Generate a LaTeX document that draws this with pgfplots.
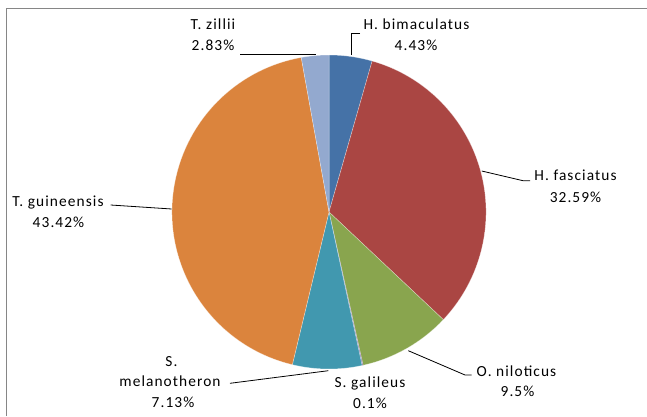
\documentclass[border=0pt]{standalone}
\usepackage{pgfplots}
\usepackage{pgfplotstable}
\pgfplotsset{compat=1.18}
\usepackage{fontspec}
\setmainfont{Carlito}[LetterSpace=7]
\definecolor{c1}{HTML}{4572A7}
\definecolor{c2}{HTML}{AA4643}
\definecolor{c3}{HTML}{89A54E}
\definecolor{c4}{HTML}{71588F}
\definecolor{c5}{HTML}{4198AF}
\definecolor{c6}{HTML}{DB843D}
\definecolor{c7}{HTML}{93A9CF}
\definecolor{framegray}{RGB}{134,134,134}

\pgfplotstableread{
name value color
Hbim 4.43 c1
Hfas 32.59 c2
Onil 9.5 c3
Sgal 0.1 c4
Smel 7.13 c5
Tgui 43.42 c6
Tzil 2.83 c7
}\piedata

\begin{document}
\begin{tikzpicture}[x=1pt,y=1pt,
  lbl/.style={font=\fontsize{15.4}{18}\selectfont, anchor=base, inner sep=0pt}]
\useasboundingbox (0,0) rectangle (647,416);
\begin{axis}[
  at={(0,0)}, anchor=south west,
  scale only axis, width=647pt, height=416pt,
  xmin=0, xmax=647, ymin=0, ymax=416,
  hide axis, clip=false,
]
\pgfplotsextra{
  \pgfplotstablegetrowsof{\piedata}
  \pgfmathtruncatemacro\nrows{\pgfplotsretval-1}
  \gdef\cum{0}
  \foreach \i in {0,...,\nrows}{
    \pgfplotstablegetelem{\i}{value}\of\piedata \let\v\pgfplotsretval
    \pgfplotstablegetelem{\i}{color}\of\piedata \let\c\pgfplotsretval
    \pgfmathsetmacro\a{90-3.6*\cum}
    \pgfmathsetmacro\b{90-3.6*(\cum+\v)}
    \fill[\c, draw=white, draw opacity=0.45, line width=0.5pt] (axis cs:329,204) -- ++(\a:157pt) arc[start angle=\a, end angle=\b, radius=157pt] -- cycle;
    \pgfmathsetmacro\n{\cum+\v}\xdef\cum{\n}
  }
}
% frame
\draw[framegray, line width=1.3pt] (axis cs:6.5,0) -- (axis cs:6.5,407.5) -- (axis cs:647,407.5);
% leader lines
\draw[black, line width=0.8pt] (axis cs:240,362) -- (axis cs:316,362);
\draw[black, line width=0.8pt] (axis cs:360,383) -- (axis cs:351,383) -- (axis cs:351,361);
\draw[black, line width=0.8pt] (axis cs:530,235.3) -- (axis cs:523,235.3) -- (axis cs:481.7,245);
\draw[black, line width=0.8pt] (axis cs:471.7,41) -- (axis cs:465,41) -- (axis cs:408.3,65.3);
\draw[black, line width=0.8pt] (axis cs:230,32.7) -- (axis cs:328.3,45.3);
\draw[black, line width=0.8pt] (axis cs:110.7,211) -- (axis cs:171.7,207);
% labels
\node[lbl] at (axis cs:213,386) {T. zillii};
\node[lbl] at (axis cs:213,365) {2.83\%};
\node[lbl] at (axis cs:416.5,386.5) {H. bimaculatus};
\node[lbl] at (axis cs:416,365.3) {4.43\%};
\node[lbl] at (axis cs:575.5,235.3) {H. fasciatus};
\node[lbl] at (axis cs:575.5,213.3) {32.59\%};
\node[lbl] at (axis cs:516.5,40) {O. niloticus};
\node[lbl] at (axis cs:517.5,19.3) {9.5\%};
\node[lbl] at (axis cs:370,29) {S. galileus};
\node[lbl] at (axis cs:370,8) {0.1\%};
\node[lbl] at (axis cs:171.5,49.3) {S.};
\node[lbl] at (axis cs:170,29.3) {melanotheron};
\node[lbl] at (axis cs:173,9) {7.13\%};
\node[lbl] at (axis cs:58,210) {T. guineensis};
\node[lbl] at (axis cs:58.5,188.7) {43.42\%};
\end{axis}
\end{tikzpicture}
\end{document}
